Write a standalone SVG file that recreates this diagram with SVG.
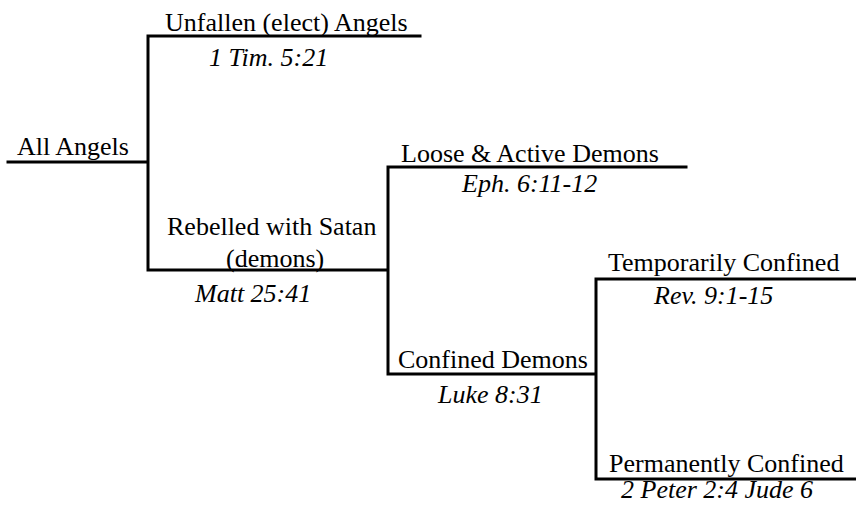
<svg xmlns="http://www.w3.org/2000/svg" width="856" height="512" viewBox="0 0 856 512">
<style>
.t{font-family:Liberation Serif,serif;font-size:26px;fill:#000}
.r{font-family:Liberation Serif,serif;font-size:26px;font-style:italic;fill:#000}
.c{fill:none;stroke:#000;stroke-width:3;stroke-linecap:square}
</style>
<rect width="856" height="512" fill="#fff"/>
<g id="connectors">
<path class="c" d="M8,162 H148 M148,36 V270 M148,36 H420 M148,270 H388 M388,167 V374 M388,167 H686 M388,374 H596 M596,279 V479 M596,279 H856 M596,479 H856"/>
</g>
<g id="all-angels"><text class="t" font-family="Liberation Serif" x="17" y="155">All Angels</text></g>
<g id="unfallen"><text class="t" font-family="Liberation Serif" x="165" y="31">Unfallen (elect) Angels</text><text class="r" font-family="Liberation Serif" x="209" y="66">1 Tim. 5:21</text></g>
<g id="rebelled"><text class="t" font-family="Liberation Serif" x="167" y="235">Rebelled with Satan</text><text class="t" font-family="Liberation Serif" x="226" y="267">(demons)</text><text class="r" font-family="Liberation Serif" x="195" y="302">Matt 25:41</text></g>
<g id="loose"><text class="t" font-family="Liberation Serif" x="401" y="162">Loose &amp; Active Demons</text><text class="r" font-family="Liberation Serif" x="462" y="192">Eph. 6:11-12</text></g>
<g id="confined"><text class="t" font-family="Liberation Serif" x="398" y="368">Confined Demons</text><text class="r" font-family="Liberation Serif" x="438" y="403">Luke 8:31</text></g>
<g id="temporarily"><text class="t" font-family="Liberation Serif" x="608" y="271">Temporarily Confined</text><text class="r" font-family="Liberation Serif" x="654" y="304">Rev. 9:1-15</text></g>
<g id="permanently"><text class="t" font-family="Liberation Serif" x="609" y="472">Permanently Confined</text><text class="r" font-family="Liberation Serif" x="621" y="498">2 Peter 2:4 Jude 6</text></g>
</svg>
